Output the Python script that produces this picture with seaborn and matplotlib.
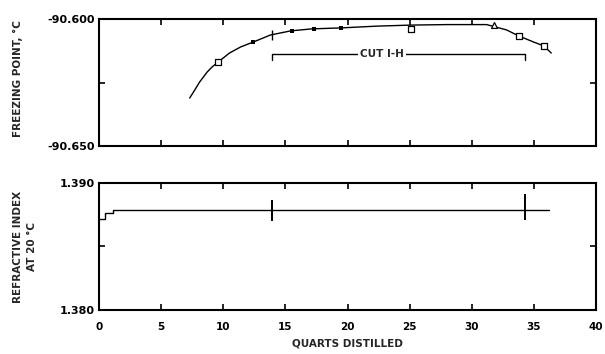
import numpy as np
import pandas as pd
import matplotlib
matplotlib.use("Agg")
import matplotlib.pyplot as plt
import seaborn as sns

# freezing point curve (quarts distilled vs deg C)
fp_x = [7.3, 7.7, 8.1, 8.7, 9.1, 9.6, 10.5, 11.4, 12.4, 13.8, 15.4, 17.1, 19.5,
        22.4, 25.1, 28.0, 31.2, 32.8, 33.8, 35.0, 35.8, 36.4]
fp_y = [-90.6311, -90.6280, -90.6248, -90.6209, -90.6189, -90.6169, -90.6134,
        -90.6110, -90.6091, -90.6063, -90.6047, -90.6039, -90.6035, -90.6028,
        -90.6024, -90.6022, -90.6022, -90.6043, -90.6067, -90.6091, -90.6106,
        -90.6134]
open_sq_x = [9.6, 25.1, 33.8, 35.8]
open_sq_y = [-90.6169, -90.6039, -90.6067, -90.6106]
tri_x = [31.8]
tri_y = [-90.6024]
filled_x = [12.4, 15.5, 17.3, 19.5]
filled_y = [-90.6091, -90.6046, -90.6038, -90.6034]

# cut I-H
cut_start = 13.9
cut_end = 34.3
cut_level = -90.6136

# refractive index at 20 C
ri_x = [0.0, 0.5, 1.1, 36.2]
ri_y = [1.3872, 1.3876, 1.3879, 1.3879]

x_ticks = [0, 5, 10, 15, 20, 25, 30, 35, 40]
fp_ticks = [-90.650, -90.625, -90.600]
fp_labels = ["-90.650", "", "-90.600"]
ri_ticks = [1.380, 1.385, 1.390]
ri_labels = ["1.380", "", "1.390"]

sns.set_style("ticks")
plt.rcParams["font.family"] = ["DejaVu Sans"]
plt.rcParams["font.weight"] = "bold"

fig = plt.figure(figsize=(6.05, 3.54), dpi=100)
ax1 = fig.add_axes([99 / 605, 1 - 146 / 354, 497 / 605, 127 / 354])
ax2 = fig.add_axes([99 / 605, 1 - 310 / 354, 497 / 605, 127 / 354])

fp = pd.DataFrame({"x": fp_x, "y": fp_y})
sns.lineplot(data=fp, x="x", y="y", sort=False, estimator=None, color="black",
             linewidth=1.0, ax=ax1)
sns.scatterplot(x=open_sq_x, y=open_sq_y, marker="s", s=14, facecolor="white",
                edgecolor="black", linewidth=0.9, ax=ax1, zorder=3)
sns.scatterplot(x=tri_x, y=tri_y, marker="^", s=18, facecolor="white",
                edgecolor="black", linewidth=0.9, ax=ax1, zorder=3)
sns.scatterplot(x=filled_x, y=filled_y, marker="s", s=6, color="black",
                linewidth=0, ax=ax1, zorder=3)
ax1.plot([cut_start], [-90.6063], marker="|", markersize=7, color="black", mew=1)

# CUT I-H bracket
ax1.plot([cut_start, cut_start, cut_end, cut_end],
         [cut_level - 0.0025, cut_level, cut_level, cut_level - 0.0025],
         color="black", linewidth=1.0)
ax1.text((cut_start + cut_end) / 2 - 1.3, cut_level, "CUT I-H", ha="center",
         va="center", fontsize=7.5, fontweight="bold",
         bbox=dict(facecolor="white", edgecolor="none", pad=1.5))

ax1.set_xlim(0, 40)
ax1.set_ylim(-90.650, -90.600)
ax1.set_yticks(fp_ticks)
ax1.set_yticklabels(fp_labels)
ax1.set_xticks(x_ticks)
ax1.tick_params(axis="x", labelbottom=False)
ax1.set_xlabel("")
ax1.set_ylabel("FREEZING POINT, °C", fontsize=7.5, fontweight="bold")
ax1.yaxis.set_label_coords(-0.152, 0.53)

# refractive index
ri = pd.DataFrame({"x": ri_x, "y": ri_y})
sns.lineplot(data=ri, x="x", y="y", sort=False, estimator=None, color="black",
             linewidth=1.0, drawstyle="steps-post", ax=ax2)
ax2.vlines([cut_start, cut_end], [1.3870, 1.3871], [1.3887, 1.3891],
           color="black", linewidth=1.4)

ax2.set_xlim(0, 40)
ax2.set_ylim(1.380, 1.390)
ax2.set_yticks(ri_ticks)
ax2.set_yticklabels(ri_labels)
ax2.set_xticks(x_ticks)
ax2.set_xticklabels([str(t) for t in x_ticks])
ax2.set_xlabel("QUARTS DISTILLED", fontsize=7.5, fontweight="bold", labelpad=4)
ax2.set_ylabel("REFRACTIVE INDEX\nAT 20 °C", fontsize=7.5, fontweight="bold",
               linespacing=1.5)
ax2.yaxis.set_label_coords(-0.125, 0.5)

for ax in (ax1, ax2):
    for s in ax.spines.values():
        s.set_visible(True)
        s.set_linewidth(1.5)
        s.set_color("black")
    ax.tick_params(direction="in", length=4, width=1.2, top=True, right=True,
                   labelsize=8, pad=3, colors="black")
    for lbl in ax.get_xticklabels() + ax.get_yticklabels():
        lbl.set_fontweight("bold")
ax2.tick_params(axis="x", pad=9, labelsize=7.5)

fig.savefig("out.png", dpi=100, facecolor="white")
